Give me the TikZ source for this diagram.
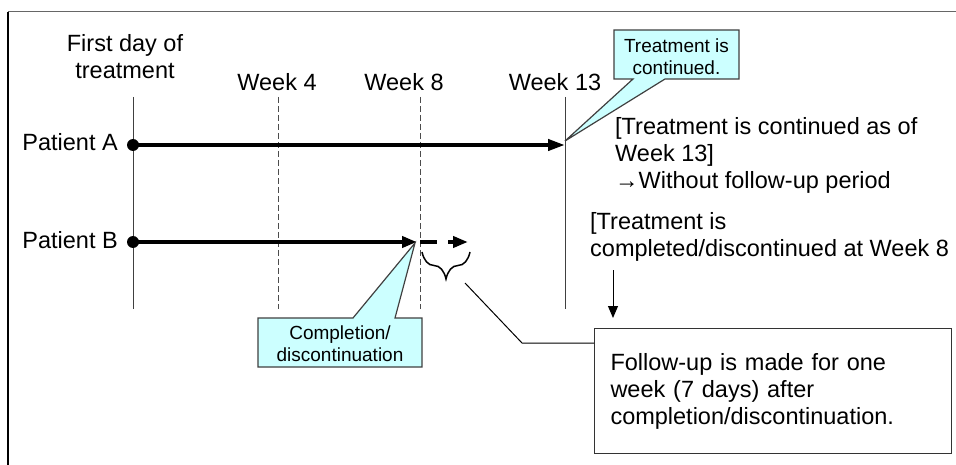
\documentclass[tikz,border=0pt]{standalone}
\usepackage{fontspec}
\setmainfont{Liberation Sans}
\usetikzlibrary{arrows.meta,decorations.pathreplacing}
\definecolor{callfill}{HTML}{CCFFFF}
\definecolor{callline}{HTML}{404040}
\begin{document}
\begin{tikzpicture}[x=1pt,y=-1pt,
  lbl/.style={inner sep=0pt, font=\fontsize{23.5}{27}\selectfont},
  small/.style={inner sep=0pt, font=\fontsize{19}{22}\selectfont, align=center},
  axisline/.style={line width=1pt, draw=black!75},
  wkline/.style={line width=1pt, draw=black!70, dash pattern=on 6pt off 3pt},
  track/.style={line width=4pt, -{Triangle[length=17pt,width=11pt]}},
  dotn/.style={circle, fill=black, inner sep=0pt, minimum size=12pt},
  callout/.style={fill=callfill, draw=callline, line width=1.2pt, line join=miter},
  thin/.style={line width=1pt, draw=black},
]
\useasboundingbox (0,0) rectangle (956,465);
\fill[white] (0,0) rectangle (956,465);
% frame
\draw[black!60, line width=1pt] (8,12) -- (956,12);
\draw[black, line width=1.3pt] (8,12) -- (8,465);

% headings
\node[lbl, anchor=north, align=center] (first) at (125,34) {First day of\\treatment};
\node[lbl, anchor=north] (w4) at (277,73) {Week 4};
\node[lbl, anchor=north] (w8) at (404,73) {Week 8};
\node[lbl, anchor=north] (w13) at (555,73) {Week 13};

% vertical lines
\coordinate (v0t) at (133,97);  \coordinate (v0b) at (133,309);
\coordinate (v4t) at (278,97);  \coordinate (v4b) at (278,309);
\coordinate (v8t) at (420,97);  \coordinate (v8b) at (420,309);
\coordinate (v13t) at (565,97); \coordinate (v13b) at (565,309);
\draw[axisline] (v0t) -- (v0b);
\draw[wkline] (v4t) -- (v4b);
\draw[wkline] (v8t) -- (v8b);
\draw[axisline] (v13t) -- (v13b);

% patients
\node[lbl, anchor=base east] (pA) at (118,151) {Patient A};
\node[lbl, anchor=base east] (pB) at (118,248) {Patient B};

\node[dotn] (a0) at (133,145) {};
\coordinate (a1) at (565,145);
\draw[track] (a0.center) -- (a1);

\node[dotn] (b0) at (133,242) {};
\coordinate (b1) at (417,242);
\draw[track, -{Triangle[length=15pt,width=11pt]}] (b0.center) -- (b1);
\coordinate (b2) at (420,242); \coordinate (b3) at (437,242);
\coordinate (b4) at (448,242); \coordinate (b5) at (468,242);
\draw[line width=4pt] (b2) -- (b3);
\draw[line width=4pt, -{Triangle[length=15pt,width=11pt]}] (b4) -- (b5);

% brace
\coordinate (br1) at (422,252); \coordinate (br2) at (470,252);
\draw[line width=1.5pt, decorate, decoration={brace, mirror, amplitude=27pt}] (br1) -- (br2);

% callouts
\filldraw[callout] (614,30) -- (739,30) -- (739,79) -- (665,79) -- (565,141) -- (633,79) -- (614,79) -- cycle;
\node[small, anchor=north] (ctext) at (676.5,39) {Treatment is\\continued.};

\filldraw[callout] (258,318) -- (353,318) -- (415,243) -- (395,318) -- (422,318) -- (422,367) -- (258,367) -- cycle;
\node[small, anchor=north] (btext) at (340,326) {Completion/\\discontinuation};

% right texts
\node[lbl, anchor=north west, align=left] (contA) at (615,117) {[Treatment is continued as of\\Week 13]\\→Without follow-up period};
\node[lbl, anchor=north west, align=left] (contB) at (590,212) {[Treatment is\\completed/discontinued at Week 8};

% follow-up box
\node[lbl, draw=black!80, line width=1pt, anchor=north west, minimum width=357pt, minimum height=125pt,
      text width=325pt, inner xsep=16pt, inner ysep=0pt, align=left] (fu) at (594,328)
      {Follow-up is made for one\\week (7 days) after\\completion/discontinuation.};

% connectors
\coordinate (c1) at (465,283); \coordinate (c2) at (522,343);
\draw[thin] (c1) -- (c2) -- (c2 -| fu.west);
\coordinate (da1) at (613,270); \coordinate (da2) at (613,318);
\draw[thin, -{Triangle[length=12pt,width=10pt]}] (da1) -- (da2);
\end{tikzpicture}
\end{document}
